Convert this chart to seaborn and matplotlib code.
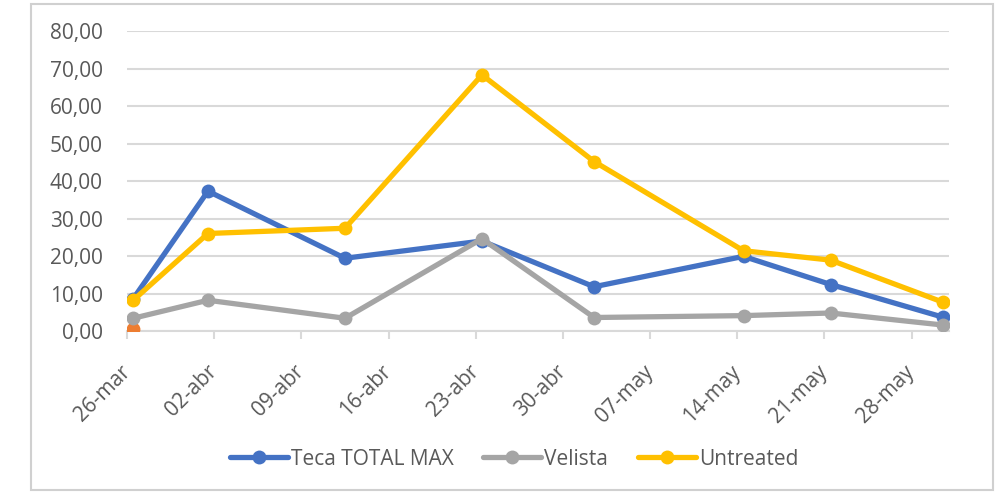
import matplotlib
matplotlib.use("Agg")
import matplotlib.pyplot as plt
import matplotlib.transforms as mtransforms
from matplotlib.patches import Rectangle
from matplotlib.ticker import FuncFormatter
import seaborn as sns
import pandas as pd

# ---- data ----
sample_dates = ["2019-03-26", "2019-04-01", "2019-04-12", "2019-04-23",
                "2019-05-02", "2019-05-14", "2019-05-21", "2019-05-30"]
teca_total_max = [8.6, 37.3, 19.4, 24.0, 11.8, 19.9, 12.4, 3.7]
velista = [3.4, 8.2, 3.4, 24.6, 3.6, 4.1, 4.8, 1.6]
untreated = [8.2, 26.0, 27.4, 68.3, 45.2, 21.4, 18.9, 7.7]
extra_date = ["2019-03-26"]
extra_value = [0.6]

tick_dates = ["2019-03-26", "2019-04-02", "2019-04-09", "2019-04-16", "2019-04-23",
              "2019-04-30", "2019-05-07", "2019-05-14", "2019-05-21", "2019-05-28"]
tick_labels = ["26-mar", "02-abr", "09-abr", "16-abr", "23-abr",
               "30-abr", "07-may", "14-may", "21-may", "28-may"]
y_ticks = [0, 10, 20, 30, 40, 50, 60, 70, 80]

series_names = ["Teca TOTAL MAX", "Velista", "Untreated"]
series_colors = ["#4472C4", "#A5A5A5", "#FFC000"]

# ---- figure ----
sns.set_theme(style="white")
plt.rcParams["font.family"] = ["Open Sans", "DejaVu Sans"]

fig = plt.figure(figsize=(10.03, 4.94), dpi=100)
fig.patch.set_facecolor("white")
fig.patches.append(Rectangle((31 / 1003, 4 / 494), 962 / 1003, 486 / 494,
                             transform=fig.transFigure, fill=False,
                             edgecolor="#D0D0D0", linewidth=1.5))
ax = fig.add_axes([127 / 1003, 1 - 331 / 494, 822 / 1003, 300 / 494])

half_day = pd.Timedelta(hours=12)
x = pd.to_datetime(sample_dates) + half_day

for name, vals, col in zip(series_names, [teca_total_max, velista, untreated], series_colors):
    sns.lineplot(x=x, y=vals, ax=ax, color=col, linewidth=3.8, marker="o",
                 markersize=10, markeredgewidth=0, label=name, zorder=3)

sns.lineplot(x=pd.to_datetime(extra_date) + half_day, y=extra_value, ax=ax,
             color="#ED7D31", marker="o", markersize=10, markeredgewidth=0,
             linewidth=0, legend=False, zorder=2)

ax.set_xlim(pd.Timestamp("2019-03-26"), pd.Timestamp("2019-05-31"))
ax.set_ylim(0, 80)
ax.set_yticks(y_ticks)
ax.yaxis.set_major_formatter(FuncFormatter(lambda v, p: f"{v:.2f}".replace(".", ",")))
ax.set_xticks(pd.to_datetime(tick_dates))
ax.set_xticklabels(tick_labels, rotation=45, ha="right", va="center",
                   rotation_mode="anchor")
offset = mtransforms.ScaledTranslation(17 / 100, 0, fig.dpi_scale_trans)
for lab in ax.get_xticklabels():
    lab.set_transform(lab.get_transform() + offset)

ax.grid(axis="y", color="#D9D9D9", linewidth=1.5)
ax.grid(axis="x", visible=False)
for s in ["top", "right", "left"]:
    ax.spines[s].set_visible(False)
ax.spines["bottom"].set_color("#D9D9D9")
ax.spines["bottom"].set_linewidth(1.5)
ax.spines["bottom"].set_zorder(1)
ax.tick_params(axis="x", direction="out", length=6, width=1.5, color="#D9D9D9",
               labelsize=15, labelcolor="#595959", pad=21, bottom=True)
ax.tick_params(axis="y", length=0, labelsize=15, labelcolor="#595959", pad=17.5)
ax.set_xlabel("")
ax.set_ylabel("")

ax.legend_.remove()
handles, labels = ax.get_legend_handles_labels()
fig.legend(handles, labels, loc="center", bbox_to_anchor=(514 / 1003, 1 - 459 / 494),
           ncol=3, frameon=False, fontsize=15, labelcolor="#595959",
           handlelength=2.8, handletextpad=0.15, columnspacing=1.4)

fig.savefig("out.png", dpi=100, facecolor="white")
